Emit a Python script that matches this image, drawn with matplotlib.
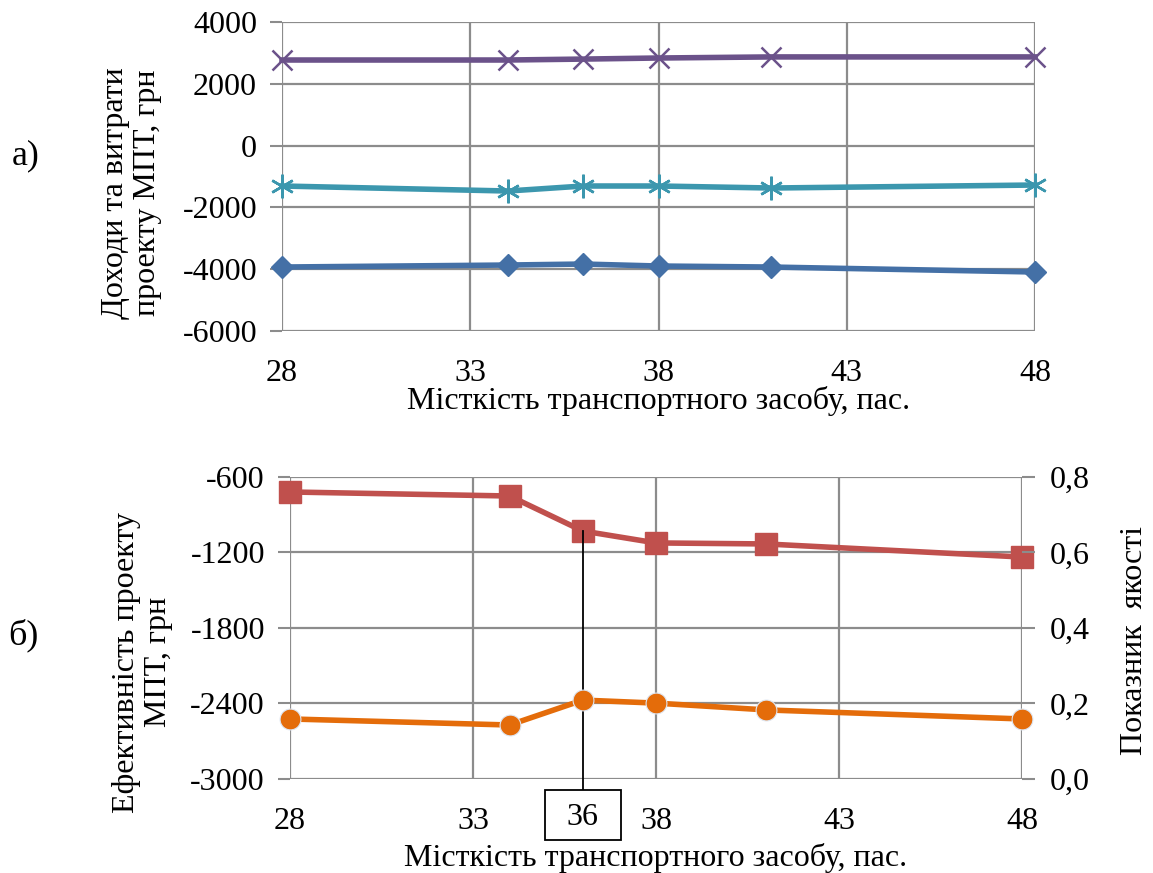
import matplotlib.pyplot as plt
import matplotlib.transforms as mtransforms
from matplotlib.patches import Rectangle

plt.rcParams['font.family'] = ['Liberation Serif', 'DejaVu Serif']
plt.rcParams['axes.unicode_minus'] = False

# capacities (passengers)
capacity = [28, 34, 36, 38, 41, 48]

# a) incomes and costs, UAH
income = [2770, 2770, 2800, 2835, 2870, 2870]
cost_a = [-1307, -1469, -1307, -1307, -1372, -1275]
cost_b = [-3929, -3864, -3832, -3896, -3929, -4090]

# b) efficiency (left) and quality index (right)
efficiency = [-719, -751, -1029, -1124, -1132, -1236]
quality = [0.159, 0.143, 0.209, 0.201, 0.183, 0.159]
best_capacity = 36

x_ticks = [28, 33, 38, 43, 48]
grid_col = '#8c8c8c'
fs = 23

fig = plt.figure(figsize=(11.53, 8.73), dpi=100)

def style_axes(ax):
    ax.set_xlim(28, 48)
    ax.set_xticks(x_ticks)
    ax.grid(True, color=grid_col, linewidth=1.6)
    for s in ax.spines.values():
        s.set_visible(False)
    ax.tick_params(axis='both', labelsize=fs, color=grid_col, width=1.5, length=9, pad=9)
    ax.tick_params(axis='x', length=0, pad=20)
    ax.set_axisbelow(True)

# ---- top chart
ax1 = fig.add_axes([0.2446, 0.6208, 0.6531, 0.354])
style_axes(ax1)
ax1.set_ylim(-6000, 4000)
ax1.set_yticks(range(-6000, 4001, 2000))
ax1.plot(capacity, income, color='#6B528A', lw=4, marker='x', ms=14, mew=1.8, clip_on=False)
ax1.plot(capacity, cost_a, color='#3C97AE', lw=4, marker=(6, 2, 0), ms=17, mew=1.8, clip_on=False)
ax1.plot(capacity, cost_b, color='#4470A6', lw=4, marker='D', ms=11, clip_on=False)
ax1.set_xlabel('Місткість транспортного засобу, пас.', fontsize=fs)
ax1.xaxis.set_label_coords(0.5, -0.178)
ax1.set_ylabel('Доходи та витрати\nпроекту МПТ, грн', fontsize=fs, linespacing=1.15)
ax1.yaxis.set_label_coords(-0.159, 0.447)

# ---- bottom chart
ax2 = fig.add_axes([0.2515, 0.1077, 0.6349, 0.3459])
style_axes(ax2)
ax2.set_ylim(-3000, -600)
ax2.set_yticks(range(-3000, -599, 600))
ax3 = ax2.twinx()
ax3.set_ylim(0, 0.8)
ax3.set_yticks([0, 0.2, 0.4, 0.6, 0.8])
ax3.set_yticklabels(['0,0', '0,2', '0,4', '0,6', '0,8'])
for s in ax3.spines.values():
    s.set_visible(False)
ax3.tick_params(axis='y', labelsize=fs, color=grid_col, width=1.5, length=9, pad=11)

ax2.plot(capacity, efficiency, color='#C0504D', lw=4, marker='s', ms=16, clip_on=False, zorder=3)
ax3.plot(capacity, quality, color='#E46C0A', lw=4, marker='o', ms=15, mec='#dde6f3', mew=0.8,
         clip_on=False, zorder=3)

# pointer to the best capacity
trans = mtransforms.blended_transform_factory(ax2.transData, ax2.transAxes)
i = capacity.index(best_capacity)
ax2.plot([best_capacity, best_capacity], [efficiency[i], -3087], color='black', lw=1.3,
         clip_on=False, zorder=4)
ax2.add_patch(Rectangle((best_capacity - 1.04, -0.202), 2.08, 0.166, transform=trans,
                        fc='white', ec='black', lw=1.3, clip_on=False, zorder=4))
ax2.text(best_capacity, -0.126, str(best_capacity), fontsize=fs, ha='center', va='center',
         transform=trans, zorder=5)

ax2.set_xlabel('Місткість транспортного засобу, пас.', fontsize=fs)
ax2.xaxis.set_label_coords(0.5, -0.212)
ax2.set_ylabel('Ефективність проекту\nМПТ, грн', fontsize=fs, linespacing=1.15)
ax2.yaxis.set_label_coords(-0.160, 0.387)
ax3.set_ylabel('Показник  якості', fontsize=fs, rotation=90)
ax3.yaxis.set_label_coords(1.134, 0.457)

fig.text(0.010, 0.822, 'а)', fontsize=fs + 3, va='center')
fig.text(0.007, 0.272, 'б)', fontsize=fs + 3, va='center')

fig.savefig('out.png', dpi=100)
